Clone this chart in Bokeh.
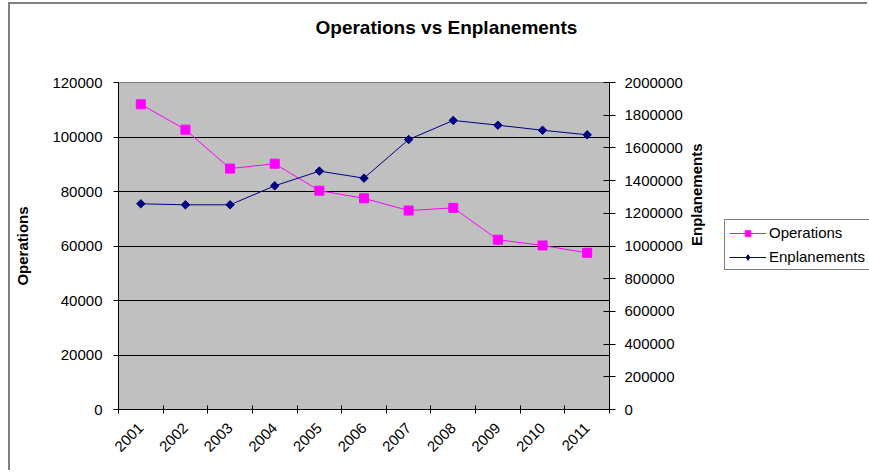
import math
from bokeh.plotting import figure
from bokeh.layouts import row
from bokeh.models import (Range1d, LinearAxis, FixedTicker, BasicTickFormatter,
                          CustomJSTickFormatter, Legend, LegendItem, Title)
from bokeh.embed import file_html
from bokeh.resources import INLINE

years = ["2001", "2002", "2003", "2004", "2005", "2006", "2007", "2008", "2009", "2010", "2011"]
operations = [112000, 102700, 88400, 90200, 80300, 77500, 73000, 74000, 62300, 60200, 57500]
enplanements = [1258000, 1252000, 1252000, 1368000, 1458000, 1415000, 1651000, 1768000,
                1739000, 1708000, 1680000]
ops_ticks = [0, 20000, 40000, 60000, 80000, 100000, 120000]
enp_ticks = [0, 200000, 400000, 600000, 800000, 1000000, 1200000, 1400000, 1600000,
             1800000, 2000000]

FONT = "Liberation Sans"
OPS_COLOR = "#FF00FF"
ENP_COLOR = "#000080"
x = [i + 0.5 for i in range(len(years))]
bounds = list(range(len(years) + 1))

W_MAIN = 710
W_LEG = 149
H = 468

p = figure(width=W_MAIN, height=H, output_backend="svg", toolbar_location=None,
           x_range=Range1d(0, len(years)), y_range=Range1d(ops_ticks[0], ops_ticks[-1]),
           min_border_left=108, min_border_right=W_MAIN - 599, min_border_top=78,
           min_border_bottom=63, background_fill_color="#C0C0C0", border_fill_color="white")
p.extra_y_ranges = {"enp": Range1d(enp_ticks[0], enp_ticks[-1])}
p.outline_line_color = "#808080"

# spacer between title and plot area
p.add_layout(Title(text=" ", text_font_size="10px", standoff=30), "above")

# title
p.title.text = "Operations vs Enplanements"
p.title.text_font = FONT
p.title.text_font_size = "19px"
p.title.text_font_style = "bold"
p.title.text_color = "black"
p.title.align = "left"
p.title.offset = 197
p.title.standoff = 4

# x axis
xa = p.xaxis[0]
xa.ticker = FixedTicker(ticks=x, minor_ticks=bounds)
xa.formatter = CustomJSTickFormatter(args=dict(labels=years), code="return labels[Math.floor(tick)];")
xa.major_label_orientation = math.pi / 4
xa.major_tick_in = 0
xa.major_tick_out = 0
xa.minor_tick_in = 4
xa.minor_tick_out = 4
xa.minor_tick_line_color = "black"
xa.axis_line_color = "black"
xa.major_label_text_font = FONT
xa.major_label_text_font_size = "15px"
xa.major_label_text_color = "black"
xa.major_label_standoff = 12

# left axis
ya = p.yaxis[0]
ya.ticker = FixedTicker(ticks=ops_ticks)
ya.formatter = BasicTickFormatter(use_scientific=False)
ya.major_tick_in = 0
ya.major_tick_out = 5
ya.minor_tick_line_color = None
ya.axis_line_color = "black"
ya.major_tick_line_color = "black"
ya.major_label_text_font = FONT
ya.major_label_text_font_size = "15px"
ya.major_label_text_color = "black"
ya.major_label_standoff = 11
ya.axis_label = "Operations"
ya.axis_label_text_font = FONT
ya.axis_label_text_font_size = "15px"
ya.axis_label_text_font_style = "bold"
ya.axis_label_text_color = "black"
ya.axis_label_standoff = 18

# right axis
ra = LinearAxis(y_range_name="enp", ticker=FixedTicker(ticks=enp_ticks),
                formatter=BasicTickFormatter(use_scientific=False))
ra.major_tick_in = 6
ra.major_tick_out = 6
ra.minor_tick_line_color = None
ra.axis_line_color = "black"
ra.major_tick_line_color = "black"
ra.major_label_text_font = FONT
ra.major_label_text_font_size = "15px"
ra.major_label_text_color = "black"
ra.major_label_standoff = 9
ra.axis_label = "Enplanements"
ra.axis_label_text_font = FONT
ra.axis_label_text_font_size = "15px"
ra.axis_label_text_font_style = "bold"
ra.axis_label_text_color = "black"
ra.axis_label_standoff = 11
ra.axis_label_orientation = math.pi / 2
p.add_layout(ra, "right")

p.xgrid.visible = False
p.ygrid.grid_line_color = "black"
p.ygrid.grid_line_width = 1

# series
p.line(x, operations, line_color=OPS_COLOR, line_width=1)
p.scatter(x, operations, marker="square", size=9, fill_color=OPS_COLOR, line_color=OPS_COLOR)
p.line(x, enplanements, line_color=ENP_COLOR, line_width=1, y_range_name="enp")
p.scatter(x, enplanements, marker="square", angle=math.pi / 4, size=6,
          fill_color=ENP_COLOR, line_color=ENP_COLOR, y_range_name="enp")

# legend panel (separate figure so it is not clipped by the plot frame)
lp = figure(width=W_LEG, height=H, output_backend="svg", toolbar_location=None,
            x_range=Range1d(-100, -99), y_range=Range1d(-100, -99),
            x_axis_location=None, y_axis_location=None,
            min_border_left=0, min_border_right=0, min_border_top=0, min_border_bottom=0,
            background_fill_color="white", border_fill_color="white")
lp.outline_line_color = None
lp.xgrid.visible = False
lp.ygrid.visible = False
l1 = lp.line(x, operations, line_color=OPS_COLOR, line_width=1)
m1 = lp.scatter(x, operations, marker="square", size=9, fill_color=OPS_COLOR, line_color=OPS_COLOR)
l2 = lp.line(x, enplanements, line_color=ENP_COLOR, line_width=1)
m2 = lp.scatter(x, enplanements, marker="diamond", size=9,
                fill_color=ENP_COLOR, line_color=ENP_COLOR)
legend = Legend(items=[LegendItem(label="Operations", renderers=[l1, m1]),
                       LegendItem(label="Enplanements", renderers=[l2, m2])],
                location=(4, 139), padding=4, spacing=7, margin=0,
                glyph_width=37, glyph_height=14, label_height=14, label_standoff=3,
                border_line_color="black", border_line_width=1,
                background_fill_color="white", background_fill_alpha=1,
                label_text_font=FONT, label_text_font_size="15px", label_text_color="black")
lp.add_layout(legend)

layout = row(p, lp, spacing=0, margin=(4, 0, 0, 10),
             styles={"box-shadow": "-2px -2px 0 0 #808080"})
open("out.html", "w").write(file_html(layout, INLINE))
